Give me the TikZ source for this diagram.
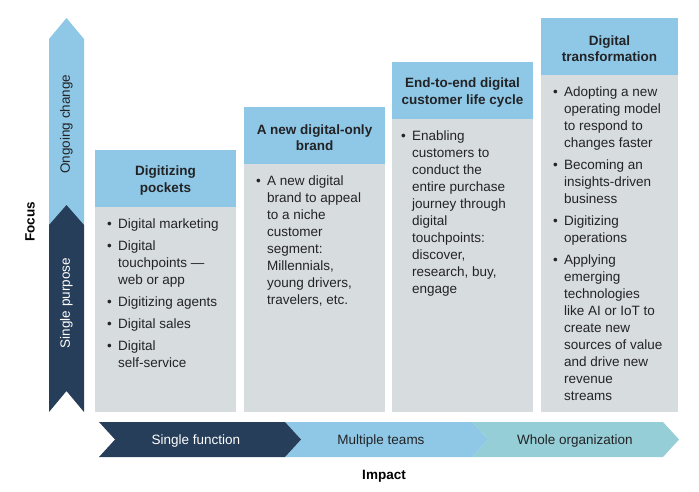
\documentclass[tikz,border=0pt]{standalone}
\usepackage{fontspec}
\setmainfont{Liberation Sans}
\usetikzlibrary{positioning}

\definecolor{skyblue}{RGB}{142,200,230}
\definecolor{navy}{RGB}{38,62,89}
\definecolor{greybg}{RGB}{215,220,223}
\definecolor{tealblue}{RGB}{149,206,214}
\definecolor{ink}{RGB}{35,35,38}

\newcommand\bul{\makebox[11pt][l]{\textbullet}}
\newcommand\ind{\hspace*{11pt}}

\begin{document}
\begin{tikzpicture}[
      x=1pt, y=-1pt,
      txt/.style={
        font=\fontsize{13.5}{17}\selectfont,
        text=ink
      },
      head/.style={
        fill=skyblue,
        minimum width=141pt,
        minimum height=57pt,
        outer sep=0pt,
        anchor=north west
      },
      headtext/.style={
        txt,
        font=\fontsize{13.5}{16.5}\selectfont\bfseries,
        align=center,
        inner sep=0pt,
        yshift=-2pt
      },
      bodybox/.style={
        fill=greybg,
        minimum width=141pt,
        outer sep=0pt
      },
      bodytext/.style={
        txt,
        align=left,
        inner sep=0pt
      },
      label/.style={
        txt,
        inner sep=0pt
      }
    ]
    \useasboundingbox (0,0) rectangle (699,491);

    % focus arrow
    \fill[skyblue] (49,39) -- (66.5,18) -- (84,39) -- (84,225) -- (49,225) -- cycle;
    \fill[navy] (49,225) -- (66.5,205) -- (84,225) -- (84,412) -- (66.5,391) -- (49,412) -- cycle;
    \node[label, rotate=90] (ongoing) at (66.5,124) {Ongoing change};
    \node[label, rotate=90, text=white] (single) at (66.5,303) {Single purpose};
    \node[label, rotate=90, font=\fontsize{13.5}{17}\selectfont\bfseries, text=black] (focus) at (30,222) {Focus};

    % impact arrow
    \fill[tealblue] (472,422) -- (663,422) -- (679,439.5) -- (663,457) -- (472,457) -- (488,439.5) -- cycle;
    \fill[skyblue] (285,422) -- (472,422) -- (488,439.5) -- (472,457) -- (285,457) -- (301,439.5) -- cycle;
    \fill[navy] (99,422) -- (285,422) -- (301,439.5) -- (285,457) -- (99,457) -- (115,439.5) -- cycle;
    \node[label, text=white] (func) at (196,441.5) {Single function};
    \node[label] (teams) at (381,441.5) {Multiple teams};
    \node[label] (org) at (575,441.5) {Whole organization};
    \node[label, font=\fontsize{13.5}{17}\selectfont\bfseries, text=black] (impact) at (384,476) {Impact};

    % columns
    \node[head] (h1) at (95,150) {};
    \node[head] (h2) at (244,107) {};
    \node[head] (h3) at (392,62) {};
    \node[head, minimum width=137pt] (h4) at (541,18) {};
    \node[headtext] (ht1) at (h1.center) {Digitizing\\pockets};
    \node[headtext] (ht2) at (h2.center) {A new digital-only\\brand};
    \node[headtext] (ht3) at (h3.center) {End-to-end digital\\customer life cycle};
    \node[headtext] (ht4) at (h4.center) {Digital\\transformation};

    \node[bodybox, minimum height=205pt, below=0pt of h1] (b1) {};
    \node[bodybox, minimum height=248pt, below=0pt of h2] (b2) {};
    \node[bodybox, minimum height=293pt, below=0pt of h3] (b3) {};
    \node[bodybox, minimum width=137pt, minimum height=337pt, below=0pt of h4] (b4) {};

    \node[bodytext, below right=12pt and 12pt of b1.north west] (t1) {%
      \bul Digital marketing\\[5pt]
      \bul Digital\\
      \ind touchpoints ---\\
      \ind web or app\\[5pt]
      \bul Digitizing agents\\[5pt]
      \bul Digital sales\\[5pt]
      \bul Digital\\
      \ind self-service};
    \node[bodytext, below right=12pt and 12pt of b2.north west] (t2) {%
      \bul A new digital\\
      \ind brand to appeal\\
      \ind to a niche\\
      \ind customer\\
      \ind segment:\\
      \ind Millennials,\\
      \ind young drivers,\\
      \ind travelers, etc.};
    \node[bodytext, below right=12pt and 9pt of b3.north west] (t3) {%
      \bul Enabling\\
      \ind customers to\\
      \ind conduct the\\
      \ind entire purchase\\
      \ind journey through\\
      \ind digital\\
      \ind touchpoints:\\
      \ind discover,\\
      \ind research, buy,\\
      \ind engage};
    \node[bodytext, below right=12pt and 12pt of b4.north west] (t4) {%
      \bul Adopting a new\\
      \ind operating model\\
      \ind to respond to\\
      \ind changes faster\\[5pt]
      \bul Becoming an\\
      \ind insights-driven\\
      \ind business\\[5pt]
      \bul Digitizing\\
      \ind operations\\[5pt]
      \bul Applying\\
      \ind emerging\\
      \ind technologies\\
      \ind like AI or IoT to\\
      \ind create new\\
      \ind sources of value\\
      \ind and drive new\\
      \ind revenue\\
      \ind streams};
  \end{tikzpicture}
\end{document}
